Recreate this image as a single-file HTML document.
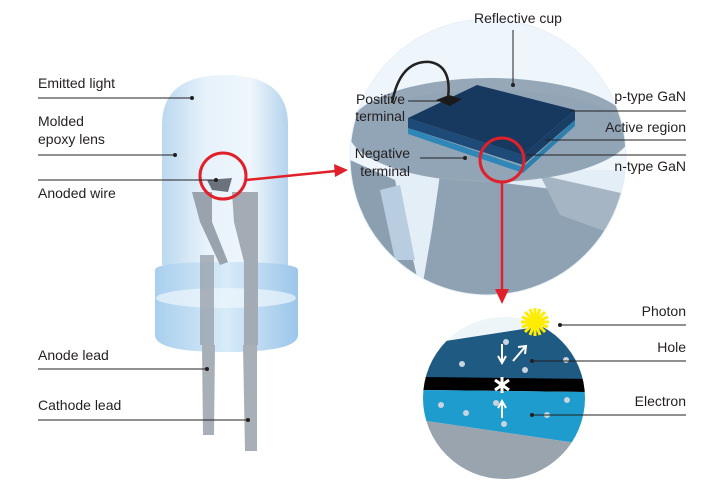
<!DOCTYPE html>
<html><head><meta charset="utf-8"><style>
html,body{margin:0;padding:0;background:#fff;}
svg{display:block;font-family:"Liberation Sans",sans-serif;}
text{font-size:14px;fill:#231f20;}
</style></head><body>
<svg width="720" height="492" viewBox="0 0 720 492" xmlns="http://www.w3.org/2000/svg">
<defs>
<linearGradient id="lens" x1="0" x2="1" y1="0" y2="0">
<stop offset="0" stop-color="#b8d6ee"/><stop offset="0.35" stop-color="#e6f1fa"/><stop offset="0.7" stop-color="#eef6fc"/><stop offset="1" stop-color="#b0d0ec"/></linearGradient>
<linearGradient id="base" x1="0" x2="1"><stop offset="0" stop-color="#a9cfee"/><stop offset="0.5" stop-color="#d8ebf8"/><stop offset="1" stop-color="#9cc6ea"/></linearGradient>
<clipPath id="big"><circle cx="488" cy="157" r="138"/></clipPath>
<clipPath id="small"><circle cx="504" cy="398" r="81"/></clipPath>
</defs>

<!-- LED -->
<path d="M162 265 L162 125 Q162 75 225 75 Q288 75 288 125 L288 265 Z" fill="url(#lens)" opacity="0.95"/>
<path d="M155 270 Q155 262 225 262 Q298 262 298 270 L298 335 Q298 352 225 352 Q155 352 155 335 Z" fill="url(#base)"/>
<ellipse cx="226" cy="298" rx="70" ry="10" fill="#eef6fc" opacity="0.7"/>
<path d="M192 192 L212 192 L212 222 L228 262 L220 265 L200 222 Z" fill="#9aa3ad"/>
<path d="M232 192 L258 192 L258 345 L244 345 L244 262 L234 222 Z" fill="#a3abb4"/>
<rect x="200" y="255" width="14" height="90" fill="#9aa3ad" opacity="0.8"/>
<path d="M202 345 L215 345 L214 435 L203 435 Z" fill="#a8afb7"/>
<path d="M243 345 L257 345 L257 451 L245 451 Z" fill="#a8afb7"/>
<path d="M207 180 L232 178 L228 192 L212 190 Z" fill="#6a737c"/>

<circle cx="223" cy="176" r="23" fill="none" stroke="#e0202a" stroke-width="3"/>
<line x1="246" y1="180" x2="336" y2="171" stroke="#e0202a" stroke-width="2.5"/>
<polygon points="348,170 334,164 335,177" fill="#e0202a"/>

<!-- left labels -->
<text x="38" y="88">Emitted light</text>
<line x1="38" y1="98" x2="192" y2="98" stroke="#231f20" stroke-width="1"/><circle cx="192" cy="98" r="2" fill="#231f20"/>
<text x="38" y="126">Molded</text><text x="38" y="144">epoxy lens</text>
<line x1="38" y1="155" x2="175" y2="155" stroke="#231f20"/><circle cx="175" cy="155" r="2" fill="#231f20"/>
<line x1="38" y1="180" x2="216" y2="180" stroke="#231f20"/><circle cx="216" cy="180" r="2" fill="#231f20"/>
<text x="38" y="198">Anoded wire</text>
<text x="38" y="360">Anode lead</text>
<line x1="38" y1="369" x2="207" y2="369" stroke="#231f20"/><circle cx="207" cy="369" r="2" fill="#231f20"/>
<text x="38" y="410">Cathode lead</text>
<line x1="38" y1="420" x2="248" y2="420" stroke="#231f20"/><circle cx="248" cy="420" r="2" fill="#231f20"/>

<!-- big circle -->
<g clip-path="url(#big)">
<rect x="340" y="10" width="300" height="300" fill="#eef5fb"/>
<rect x="340" y="170" width="300" height="140" fill="#e4eef6"/>
<path d="M350 160 L395 180 L420 290 L350 290 Z" fill="#8c9fb0"/>
<path d="M380 190 L400 185 L415 260 L395 260 Z" fill="#b9cde0"/>
<path d="M440 175 L560 190 L630 215 L630 300 L420 300 L432 230 Z" fill="#8fa2b4"/>
<path d="M540 175 L630 195 L630 240 L560 215 Z" fill="#a5b5c4"/>
<ellipse cx="490" cy="130" rx="142" ry="52" fill="#96a8b8"/>
<ellipse cx="490" cy="135" rx="140" ry="45" fill="#8ea1b3" opacity="0.5"/>
</g>
<circle cx="488" cy="157" r="138" fill="none" stroke="#e8f0f7" stroke-width="1"/>
<!-- chip -->
<polygon points="408,128 523,167 523,173 408,134" fill="#2f87b7"/>
<polygon points="523,167 575,120 575,126 523,173" fill="#2d7fae"/>
<polygon points="408,118 523,155 523,165 408,128" fill="#1d4a77"/>
<polygon points="523,155 575,110 575,120 523,165" fill="#1a3f66"/>
<polygon points="408,118 477,85 575,110 523,155" fill="#17385f"/>
<polygon points="436,100 449,95 462,99 450,106" fill="#1a1a1a"/>
<path d="M392 103 Q400 60 430 62 Q452 66 448 98" fill="none" stroke="#222" stroke-width="2.5"/>
<circle cx="502" cy="160" r="22" fill="none" stroke="#e0202a" stroke-width="3"/>
<line x1="502" y1="182" x2="502" y2="292" stroke="#e0202a" stroke-width="2.5"/>
<polygon points="502,304 495,289 509,289" fill="#e0202a"/>

<text x="518" y="23" text-anchor="middle">Reflective cup</text>
<line x1="513" y1="30" x2="513" y2="85" stroke="#231f20"/><circle cx="513" cy="85" r="2" fill="#231f20"/>
<text x="405" y="104" text-anchor="end">Positive</text><text x="405" y="121" text-anchor="end">terminal</text>
<line x1="408" y1="101" x2="445" y2="101" stroke="#231f20"/>
<text x="410" y="158" text-anchor="end">Negative</text><text x="410" y="176" text-anchor="end">terminal</text>
<line x1="420" y1="158" x2="465" y2="158" stroke="#231f20"/><circle cx="465" cy="158" r="2" fill="#231f20"/>
<text x="686" y="101" text-anchor="end">p-type GaN</text>
<line x1="570" y1="111" x2="686" y2="111" stroke="#231f20"/>
<text x="686" y="132" text-anchor="end">Active region</text>
<line x1="545" y1="140" x2="686" y2="140" stroke="#231f20"/>
<text x="686" y="171" text-anchor="end">n-type GaN</text>
<line x1="527" y1="155" x2="686" y2="155" stroke="#231f20"/>

<!-- small circle -->
<g clip-path="url(#small)">
<rect x="420" y="315" width="170" height="170" fill="#eef5f9"/>
<polygon points="420,345 530,328 590,325 590,380 420,378" fill="#1f5a82"/>
<polygon points="420,377 590,379 590,392 420,390" fill="#000"/>
<polygon points="420,390 590,392 590,445 420,420" fill="#1e9ccd"/>
<polygon points="420,420 590,445 590,485 420,485" fill="#9aa4ae"/>
</g>
<g fill="#c9d4de">
<circle cx="506" cy="342" r="3"/><circle cx="462" cy="364" r="3"/><circle cx="525" cy="370" r="3"/><circle cx="566" cy="360" r="3"/>
<circle cx="441" cy="405" r="3"/><circle cx="466" cy="413" r="3"/><circle cx="496" cy="403" r="3"/><circle cx="567" cy="400" r="3"/><circle cx="547" cy="415" r="3"/><circle cx="504" cy="424" r="3"/>
</g>
<g stroke="#fff" stroke-width="2" fill="none">
<line x1="502" y1="344" x2="502" y2="362"/><polyline points="498,356 502,363 506,356"/>
<line x1="513" y1="361" x2="525" y2="347"/><polyline points="518,347 526,346 525,354"/>
<line x1="502" y1="418" x2="502" y2="402"/><polyline points="498,408 502,401 506,408"/>
<g stroke-width="3"><line x1="502" y1="377" x2="502" y2="393"/><line x1="495" y1="380" x2="509" y2="390"/><line x1="509" y1="380" x2="495" y2="390"/></g>
</g>
<g stroke="#ffec00" stroke-width="3">
<line x1="535" y1="308" x2="535" y2="336"/><line x1="521" y1="322" x2="549" y2="322"/>
<line x1="525" y1="312" x2="545" y2="332"/><line x1="545" y1="312" x2="525" y2="332"/>
<line x1="530" y1="309" x2="540" y2="335"/><line x1="540" y1="309" x2="530" y2="335"/>
<line x1="522" y1="317" x2="548" y2="327"/><line x1="548" y1="317" x2="522" y2="327"/>
</g>
<text x="686" y="316" text-anchor="end">Photon</text>
<line x1="560" y1="325" x2="686" y2="325" stroke="#231f20"/><circle cx="560" cy="325" r="2" fill="#231f20"/>
<text x="686" y="352" text-anchor="end">Hole</text>
<line x1="532" y1="361" x2="686" y2="361" stroke="#231f20"/><circle cx="532" cy="361" r="2" fill="#231f20"/>
<text x="686" y="406" text-anchor="end">Electron</text>
<line x1="532" y1="415" x2="686" y2="415" stroke="#231f20"/><circle cx="532" cy="415" r="2" fill="#231f20"/>
</svg>
</body></html>
